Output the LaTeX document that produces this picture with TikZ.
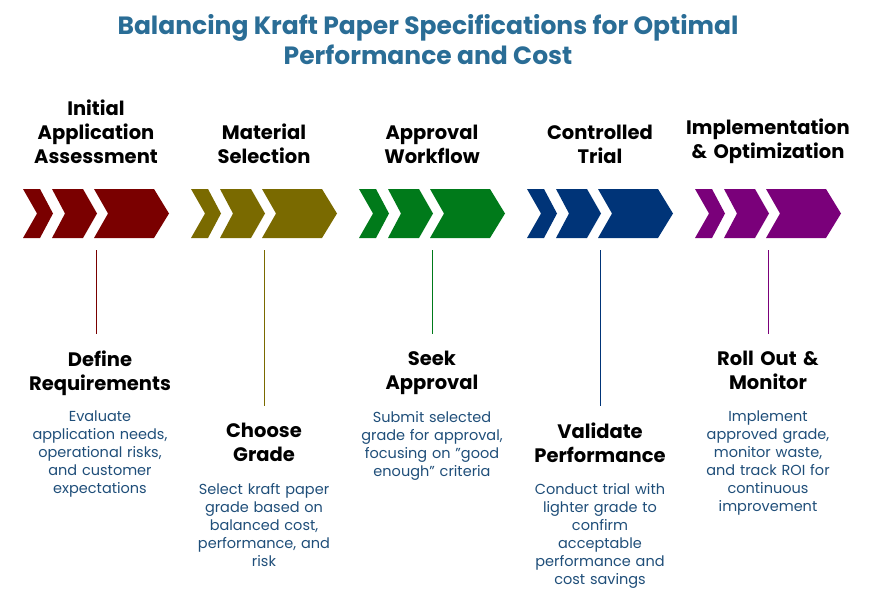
\documentclass[tikz,border=0pt]{standalone}
\usepackage{fontspec}
\setmainfont{Poppins}
\usetikzlibrary{positioning,calc}
\definecolor{TitleBlue}{RGB}{42,109,150}
\definecolor{DescBlue}{RGB}{31,78,121}
\definecolor{StepA}{RGB}{122,0,0}
\definecolor{StepB}{RGB}{122,106,0}
\definecolor{StepC}{RGB}{0,122,26}
\definecolor{StepD}{RGB}{0,52,120}
\definecolor{StepE}{RGB}{122,0,122}
\tikzset{
  phase/.style={font=\fontsize{19.5}{24}\selectfont\bfseries, align=center, text width=170, inner sep=0, anchor=south},
  head/.style={font=\fontsize{19.5}{24}\selectfont\bfseries, align=center, text width=170, inner sep=0, anchor=north},
  desc/.style={font=\fontsize{14.5}{18}\selectfont, text=DescBlue, align=center, text width=160, inner sep=0, anchor=north},
}
\begin{document}
\hyphenpenalty=10000
\begin{tikzpicture}[x=1pt,y=-1pt]
    \useasboundingbox (0,0) rectangle (881,599);
    \node[font=\fontsize{25}{30}\selectfont\bfseries, text=TitleBlue, align=center] (title) at (428,40) {Balancing Kraft Paper Specifications for Optimal\\Performance and Cost};
    % chevrons
    \foreach \i/\c in {0/StepA,1/StepB,2/StepC,3/StepD,4/StepE}
    {
        \begin{scope}[xshift=168*\i]
            \fill[\c] (23,189) -- (40,189) -- (53,213.5) -- (40,238) -- (23,238) -- (37,213.5) -- cycle;
            \fill[\c] (52,189) -- (83,189) -- (97,213.5) -- (83,238) -- (52,238) -- (65,213.5) -- cycle;
            \fill[\c] (94,189) -- (154,189) -- (169,213.5) -- (154,238) -- (94,238) -- (108,213.5) -- cycle;
            \coordinate (c\i) at (96,250);
        \end{scope}
    }
    % phase names
    \node[phase] (p0) at (96,164) {Initial\\Application\\Assessment};
    \node[phase] (p1) at (264,164) {Material\\Selection};
    \node[phase] (p2) at (432,164) {Approval\\Workflow};
    \node[phase] (p3) at (600,164) {Controlled\\Trial};
    \node[phase] (p4) at (768,164) {Implementation\\\& Optimization};
    % steps
    \node[head] (h0) at (100,351) {Define\\Requirements};
    \node[head] (h1) at (264,423) {Choose\\Grade};
    \node[head] (h2) at (432,351) {Seek\\Approval};
    \node[head] (h3) at (600,423) {Validate\\Performance};
    \node[head] (h4) at (768,351) {Roll Out \&\\Monitor};
    \node[desc] (d0) at (h0.north |- 0,411) {Evaluate\\application needs,\\operational risks,\\and customer\\expectations};
    \node[desc] (d1) at (h1.north |- 0,483) {Select kraft paper\\grade based on\\balanced cost,\\performance, and\\risk};
    \node[desc] (d2) at (h2.north |- 0,411) {Submit selected\\grade for approval,\\focusing on "good\\enough" criteria};
    \node[desc] (d3) at (h3.north |- 0,483) {Conduct trial with\\lighter grade to\\confirm\\acceptable\\performance and\\cost savings};
    \node[desc] (d4) at (h4.north |- 0,411) {Implement\\approved grade,\\monitor waste,\\and track ROI for\\continuous\\improvement};
    \draw[StepA] (c0) -- ([yshift=17]h0.north -| c0);
    \draw[StepB] (c1) -- ([yshift=17]h1.north);
    \draw[StepC] (c2) -- ([yshift=17]h2.north);
    \draw[StepD] (c3) -- ([yshift=17]h3.north);
    \draw[StepE] (c4) -- ([yshift=17]h4.north);
\end{tikzpicture}
\end{document}
